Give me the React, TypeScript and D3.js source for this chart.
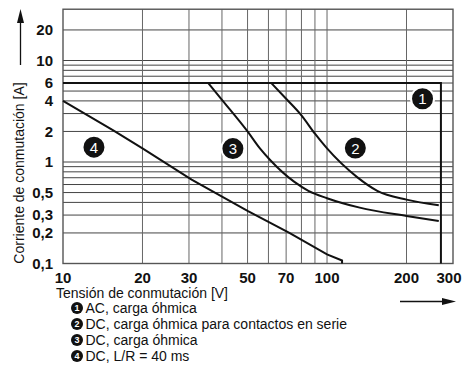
import React from 'react';
import * as d3 from 'd3';

// axes
const xTicks = [10, 20, 30, 50, 70, 100, 200, 300];
const yTicks = [0.1, 0.2, 0.3, 0.5, 1, 2, 4, 6, 10, 20];
const xGrid = [20, 30, 40, 50, 60, 70, 80, 90, 100, 200];
const yGrid = [0.2, 0.3, 0.4, 0.5, 0.6, 0.7, 0.8, 0.9, 1, 2, 3, 4, 5, 6, 7, 8, 9, 10, 20];
const yTop = 32;

// curves [V, A]
const curve1: [number, number][] = [[10, 6], [270, 6], [270, 0.1]];
const curve2: [number, number][] = [[61.5, 6], [70, 4.2], [80, 2.88], [90, 1.9], [100, 1.36], [130, 0.71], [155, 0.52], [200, 0.426], [265, 0.375]];
const curve3: [number, number][] = [[35.5, 6], [40, 4.1], [50, 2.0], [55.7, 1.36], [61, 1.04], [75, 0.64], [85, 0.52], [100, 0.44], [133, 0.355], [200, 0.294], [265, 0.262]];
const curve4: [number, number][] = [[10, 4], [15.5, 2.05], [20, 1.36], [30.7, 0.67], [50, 0.33], [72, 0.2], [100, 0.123], [114, 0.107], [114, 0.1]];

// circled numbers
const markers = [
  {n: '1', v: 230, a: 4.2},
  {n: '2', v: 128, a: 1.37},
  {n: '3', v: 44, a: 1.355},
  {n: '4', v: 13.1, a: 1.4},
];

const legend = [
  {n: '1', label: 'AC, carga óhmica'},
  {n: '2', label: 'DC, carga óhmica para contactos en serie'},
  {n: '3', label: 'DC, carga óhmica'},
  {n: '4', label: 'DC, L/R = 40 ms'},
];

const font = '"Liberation Sans", Arial, Helvetica, sans-serif';

export default function App() {
  const x = d3.scaleLog().domain([10, 300]).range([63, 453]);
  const y = d3.scaleLog().domain([0.1, 10]).range([263.5, 60.5]);

  const line = d3.line<[number, number]>().x((d) => x(d[0])).y((d) => y(d[1]));
  const smooth = d3.line<[number, number]>().x((d) => x(d[0])).y((d) => y(d[1])).curve(d3.curveMonotoneX);

  const left = x(10), right = x(300), top = y(yTop), bottom = y(0.1);
  const fmt = (v: number) => String(v).replace('.', ',');

  return (
    <svg width={462} height={369} style={{position: 'absolute', left: 0, top: 0, display: 'block'}} fontFamily={font}>
      <rect width={462} height={369} fill="#fff" />
      {/* grid */}
      <g stroke="#444" strokeWidth={1}>
        {yGrid.map((v) => (
          <line key={'h' + v} x1={left} x2={right} y1={y(v)} y2={y(v)} />
        ))}
      </g>
      <g stroke="#666" strokeWidth={1}>
        {xGrid.map((v) => (
          <line key={'v' + v} x1={x(v)} x2={x(v)} y1={top} y2={bottom} />
        ))}
      </g>
      <rect x={left} y={top} width={right - left} height={bottom - top} fill="none" stroke="#555" strokeWidth={1.4} />

      {/* curves */}
      <g fill="none" stroke="#111" strokeWidth={2}>
        <path d={line(curve1) || ''} />
        <path d={smooth(curve2) || ''} />
        <path d={smooth(curve3) || ''} />
        <path d={line(curve4) || ''} />
      </g>

      {/* markers */}
      {markers.map((m) => (
        <g key={m.n} transform={`translate(${x(m.v)},${y(m.a)})`}>
          <circle r={11.5} fill="#111" stroke="#fff" strokeWidth={2} />
          <text textAnchor="middle" dy="0.36em" fill="#fff" fontSize={15}>{m.n}</text>
        </g>
      ))}

      {/* y ticks */}
      <g fontSize={15} fontWeight="bold" fill="#111" textAnchor="end">
        {yTicks.map((v) => (
          <text key={v} x={53} y={y(v)} dy="0.36em">{fmt(v)}</text>
        ))}
      </g>
      {/* x ticks */}
      <g fontSize={15} fontWeight="bold" fill="#111" textAnchor="middle">
        {xTicks.map((v, i) => (
          <text key={v} x={x(v) - (i === xTicks.length - 1 ? 4 : 0)} y={282.5}>{v}</text>
        ))}
      </g>

      {/* axis titles */}
      <text x={56} y={298} fontSize={14} fill="#111">Tensión de conmutación [V]</text>
      <text transform="translate(24,173) rotate(-90)" textAnchor="middle" fontSize={14} fill="#111">Corriente de conmutación [A]</text>

      {/* arrows */}
      <line x1={20.5} x2={20.5} y1={65} y2={20} stroke="#111" strokeWidth={1.3} />
      <path d="M20.5,9 L17,23 L24,23 Z" fill="#111" />
      <line x1={400} x2={444} y1={301.5} y2={301.5} stroke="#111" strokeWidth={1.3} />
      <path d="M456,301.5 L442,298 L442,305 Z" fill="#111" />

      {/* legend */}
      {legend.map((l, i) => (
        <g key={l.n} transform={`translate(0,${313 + i * 16})`}>
          <circle cx={77} cy={-5} r={6} fill="#111" />
          <text x={77} y={-5} dy="0.35em" textAnchor="middle" fill="#fff" fontSize={9} fontWeight="bold">{l.n}</text>
          <text x={85.5} y={0} fontSize={14} fill="#111">{l.label}</text>
        </g>
      ))}
    </svg>
  );
}
